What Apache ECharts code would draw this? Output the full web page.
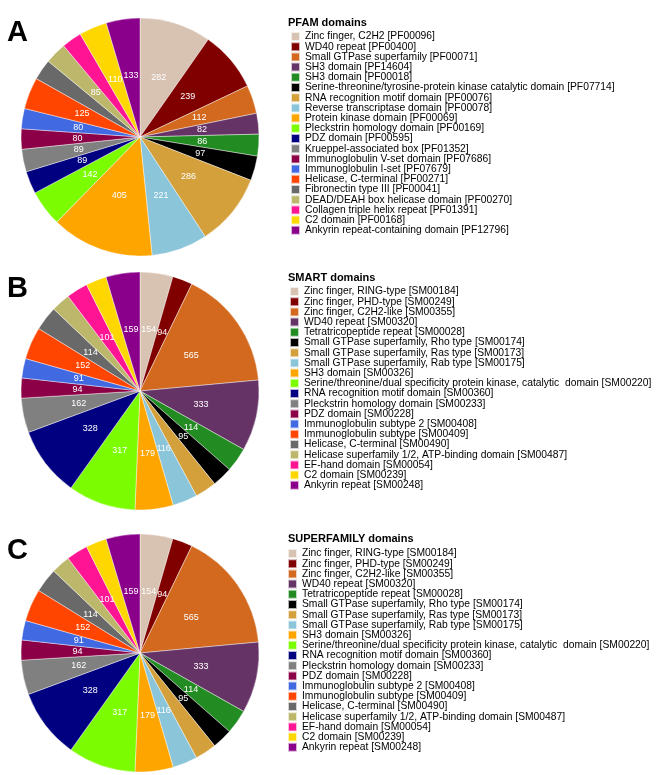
<!DOCTYPE html>
<html><head><meta charset="utf-8">
<script src="https://cdn.jsdelivr.net/npm/echarts@6/dist/echarts.min.js"></script>
<style>html,body{margin:0;padding:0;background:#fff}#c{width:666px;height:775px}</style>
</head><body><div id="c"></div>
<script>
const colors = ['#D8C2B2','#800000','#D2691E','#663366','#228B22','#000000','#D4A03C','#8AC5DA','#FFA500','#7CFC00','#000080','#808080','#8B0046','#4169E1','#FF4500','#696969','#BDB76B','#FF1493','#FFD700','#8B008B'];

const pfamNames = ['Zinc finger, C2H2 [PF00096]','WD40 repeat [PF00400]','Small GTPase superfamily [PF00071]','SH3 domain [PF14604]','SH3 domain [PF00018]','Serine-threonine/tyrosine-protein kinase catalytic domain [PF07714]','RNA recognition motif domain [PF00076]','Reverse transcriptase domain [PF00078]','Protein kinase domain [PF00069]','Pleckstrin homology domain [PF00169]','PDZ domain [PF00595]','Krueppel-associated box [PF01352]','Immunoglobulin V-set domain [PF07686]','Immunoglobulin I-set [PF07679]','Helicase, C-terminal [PF00271]','Fibronectin type III [PF00041]','DEAD/DEAH box helicase domain [PF00270]','Collagen triple helix repeat [PF01391]','C2 domain [PF00168]','Ankyrin repeat-containing domain [PF12796]'];
const pfamValues = [282,239,112,82,86,97,286,221,405,142,89,89,80,80,125,82,85,79,110,133];

const smartNames = ['Zinc finger, RING-type [SM00184]','Zinc finger, PHD-type [SM00249]','Zinc finger, C2H2-like [SM00355]','WD40 repeat [SM00320]','Tetratricopeptide repeat [SM00028]','Small GTPase superfamily, Rho type [SM00174]','Small GTPase superfamily, Ras type [SM00173]','Small GTPase superfamily, Rab type [SM00175]','SH3 domain [SM00326]','Serine/threonine/dual specificity protein kinase, catalytic  domain [SM00220]','RNA recognition motif domain [SM00360]','Pleckstrin homology domain [SM00233]','PDZ domain [SM00228]','Immunoglobulin subtype 2 [SM00408]','Immunoglobulin subtype [SM00409]','Helicase, C-terminal [SM00490]','Helicase superfamily 1/2, ATP-binding domain [SM00487]','EF-hand domain [SM00054]','C2 domain [SM00239]','Ankyrin repeat [SM00248]'];
const smartValues = [154,94,565,333,114,95,101,116,179,317,328,162,94,91,152,114,89,101,97,159];

const superNames = smartNames.slice();
const superValues = [154,94,565,333,114,95,101,116,179,317,328,162,94,91,152,114,89,101,97,159];

const panels = [
  {letter:'A', title:'PFAM domains', names:pfamNames, values:pfamValues, cy:137, letterTop:18, titleTop:17, legendLeft:290, legendTop:31},
  {letter:'B', title:'SMART domains', names:smartNames, values:smartValues, cy:391, letterTop:274, titleTop:272, legendLeft:289, legendTop:286},
  {letter:'C', title:'SUPERFAMILY domains', names:superNames, values:superValues, cy:653, letterTop:536, titleTop:533, legendLeft:287, legendTop:548}
];

const chart = echarts.init(document.getElementById('c'), null, {renderer:'canvas'});
const titles = [], legends = [], series = [];
panels.forEach((p, i) => {
  titles.push({text:p.letter, left:7, top:p.letterTop, padding:0,
    textStyle:{fontFamily:'Liberation Sans, Arial, sans-serif', fontWeight:'bold', fontSize:29, color:'#000'}});
  titles.push({text:p.title, left:288, top:p.titleTop, padding:0,
    textStyle:{fontFamily:'Liberation Sans, Arial, sans-serif', fontWeight:'bold', fontSize:11, color:'#000'}});
  legends.push({orient:'vertical', left:p.legendLeft, top:p.legendTop, padding:0,
    itemWidth:9, itemHeight:9, itemGap:-0.8, icon:'rect', selectedMode:false,
    data:p.names.map(n=>({name:n})),
    textStyle:{fontFamily:'Liberation Sans, Arial, sans-serif', fontSize:10.3, lineHeight:10, color:'#000', padding:[0,0,0,0]}});
  series.push({type:'pie', center:[140, p.cy], radius:[0,119], startAngle:90, clockwise:true,
    avoidLabelOverlap:false, animation:false, silent:true,
    itemStyle:{borderColor:'rgba(255,255,255,0.7)', borderWidth:0.6},
    label:{show:true, position:'inside', formatter:'{c}', color:'#fff', fontSize:9,
      fontFamily:'Liberation Sans, Arial, sans-serif', textBorderWidth:0},
    labelLine:{show:false},
    data:p.names.map((n,k)=>({name:n, value:p.values[k], itemStyle:{color:colors[k]}}))});
});

chart.setOption({animation:false, color:colors, title:titles, legend:legends, series:series});
</script></body></html>
